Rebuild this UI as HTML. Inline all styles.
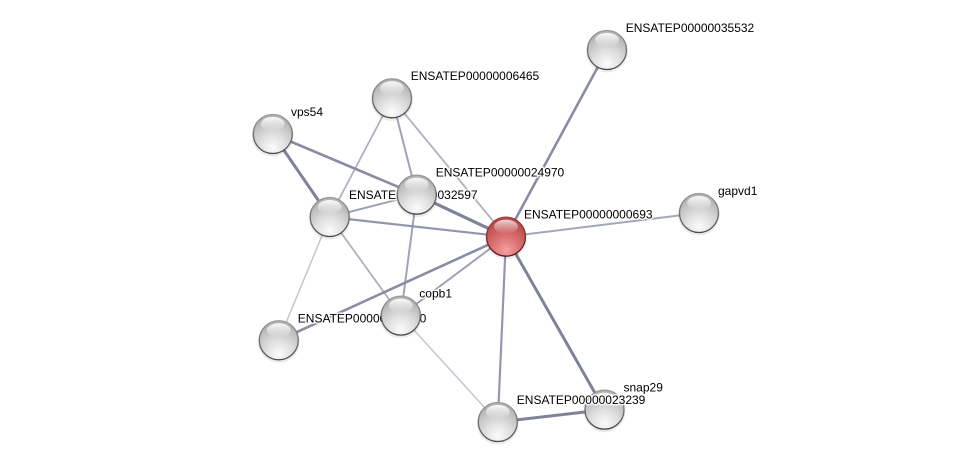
<!DOCTYPE html>
<html><head><meta charset="utf-8"><style>
html,body{margin:0;padding:0;background:#fff;}
svg{display:block;}
text{font-family:"Liberation Sans",Arial,sans-serif;font-size:12px;fill:#000;paint-order:stroke;stroke:#fff;stroke-width:3px;stroke-opacity:0.85;stroke-linejoin:round;}
</style></head><body>
<svg width="976" height="467" viewBox="0 0 976 467" xmlns="http://www.w3.org/2000/svg">
<defs>
<radialGradient id="gg" cx="50%" cy="85%" r="75%">
<stop offset="0" stop-color="#fbfbfb"/>
<stop offset="0.45" stop-color="#e0e0e0"/>
<stop offset="1" stop-color="#b4b4b4"/>
</radialGradient>
<radialGradient id="rg" cx="50%" cy="85%" r="75%">
<stop offset="0" stop-color="#f6a0a0"/>
<stop offset="0.45" stop-color="#dc7373"/>
<stop offset="1" stop-color="#b84a4a"/>
</radialGradient>
<linearGradient id="hl" x1="0" y1="0" x2="0" y2="1">
<stop offset="0" stop-color="#fff" stop-opacity="0.95"/>
<stop offset="1" stop-color="#fff" stop-opacity="0"/>
</linearGradient>
<linearGradient id="gs" x1="0" y1="0" x2="0" y2="1">
<stop offset="0" stop-color="#9a9a9a"/>
<stop offset="1" stop-color="#4a4a4a"/>
</linearGradient>
<linearGradient id="rs" x1="0" y1="0" x2="0" y2="1">
<stop offset="0" stop-color="#a04040"/>
<stop offset="1" stop-color="#5a1a1a"/>
</linearGradient>
<g id="gn">
<circle r="21" fill="#000" opacity="0.08" cy="1.5"/>
<circle r="19.5" fill="url(#gg)" stroke="url(#gs)" stroke-width="1.3"/>
<ellipse cy="-10" rx="12" ry="7" fill="url(#hl)"/>
</g>
<g id="rn">
<circle r="21" fill="#000" opacity="0.08" cy="1.5"/>
<circle r="19.5" fill="url(#rg)" stroke="url(#rs)" stroke-width="1.3"/>
<ellipse cy="-10" rx="12" ry="7" fill="url(#hl)" opacity="0.8"/>
</g>
</defs>

<!-- edges -->
<g stroke-linecap="round" fill="none">
<line x1="278.8" y1="340.3" x2="329.7" y2="217" stroke="#c4c6d2" stroke-width="1.5"/>
<line x1="400.8" y1="315.6" x2="497.8" y2="422" stroke="#c4c6d2" stroke-width="1.5"/>
<line x1="329.7" y1="217" x2="400.8" y2="315.6" stroke="#aeb1c2" stroke-width="1.8"/>
<line x1="392" y1="98.3" x2="329.7" y2="217" stroke="#aeb1c2" stroke-width="1.8"/>
<line x1="392" y1="98.3" x2="416.7" y2="194.7" stroke="#9fa3b7" stroke-width="2"/>
<line x1="392" y1="98.3" x2="506" y2="236.7" stroke="#aeb1c2" stroke-width="1.8"/>
<line x1="329.7" y1="217" x2="416.7" y2="194.7" stroke="#9fa3b7" stroke-width="2"/>
<line x1="416.7" y1="194.7" x2="400.8" y2="315.6" stroke="#9fa3b7" stroke-width="2"/>
<line x1="329.7" y1="217" x2="506" y2="236.7" stroke="#9397ad" stroke-width="2.2"/>
<line x1="506" y1="236.7" x2="699" y2="213" stroke="#a3a7ba" stroke-width="2"/>
<line x1="506" y1="236.7" x2="400.8" y2="315.6" stroke="#9fa3b7" stroke-width="2"/>
<line x1="506" y1="236.7" x2="497.8" y2="422" stroke="#9397ad" stroke-width="2.2"/>
<line x1="272.8" y1="134" x2="416.7" y2="194.7" stroke="#898da4" stroke-width="2.6"/>
<line x1="506" y1="236.7" x2="278.8" y2="340.3" stroke="#898da4" stroke-width="2.6"/>
<line x1="506" y1="236.7" x2="607" y2="50" stroke="#898da4" stroke-width="2.6"/>
<line x1="272.8" y1="134" x2="329.7" y2="217" stroke="#7f8399" stroke-width="3"/>
<line x1="506" y1="236.7" x2="416.7" y2="194.7" stroke="#7f8399" stroke-width="3.2"/>
<line x1="506" y1="236.7" x2="604.5" y2="409.7" stroke="#7f8399" stroke-width="3"/>
<line x1="497.8" y1="422" x2="604.5" y2="409.7" stroke="#7f8399" stroke-width="3"/>
</g>

<!-- nodes + labels -->
<use href="#gn" x="604.5" y="409.7"/>
<text x="623.5" y="391.7">snap29</text>
<use href="#gn" x="497.8" y="422"/>
<text x="516.8" y="404">ENSATEP00000023239</text>
<use href="#gn" x="278.8" y="340.3"/>
<text x="297.8" y="322.3">ENSATEP00000020710</text>
<use href="#gn" x="400.8" y="315.6"/>
<text x="419.3" y="297.5">copb1</text>
<use href="#gn" x="329.7" y="217"/>
<text x="349" y="199">ENSATEP00000032597</text>
<use href="#gn" x="416.7" y="194.7"/>
<text x="435.7" y="176.7">ENSATEP00000024970</text>
<use href="#gn" x="272.8" y="134"/>
<text x="291" y="116">vps54</text>
<use href="#gn" x="392" y="98.3"/>
<text x="410.7" y="80">ENSATEP00000006465</text>
<use href="#gn" x="607" y="50"/>
<text x="625.7" y="32">ENSATEP00000035532</text>
<use href="#gn" x="699" y="213"/>
<text x="718" y="195">gapvd1</text>
<use href="#rn" x="506" y="236.7"/>
<text x="524" y="218.7">ENSATEP00000000693</text>
</svg>
</body></html>
